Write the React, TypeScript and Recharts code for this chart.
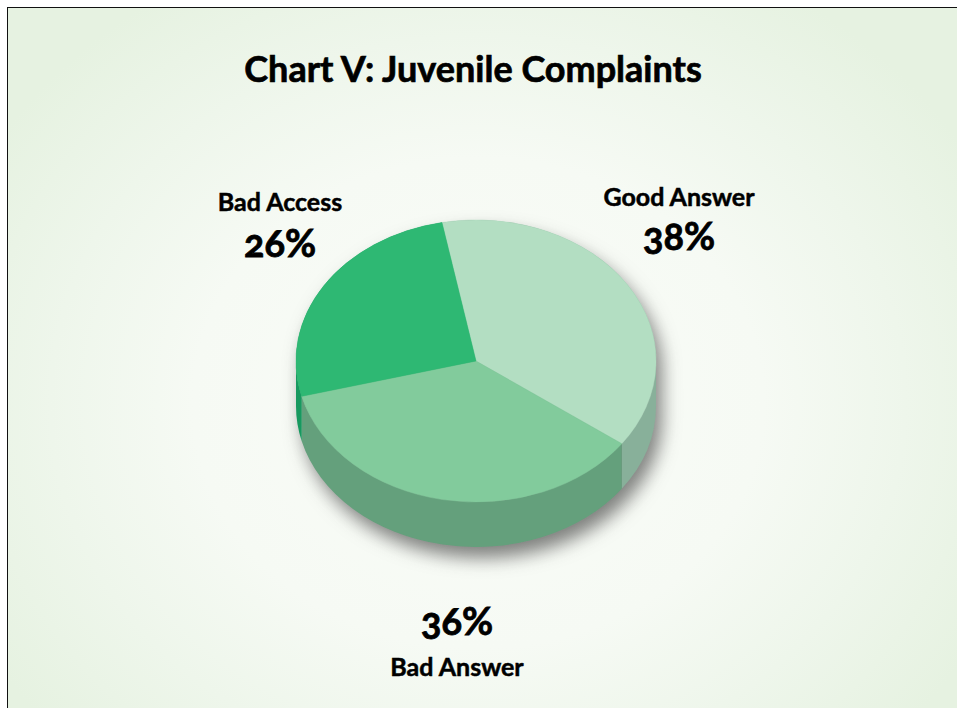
import { PieChart, Pie, Cell } from "recharts";

const categories = ["Good Answer", "Bad Answer", "Bad Access"];
const shares = [38, 36, 26];
const topColors = ["#b3dec2", "#82cb9c", "#2eb873"];
const wallColors = ["#88b09a", "#64a07c", "#17995f"];

const data = categories.map((name, i) => ({ name, value: shares[i] }));

const CX = 476;
const CY = 361;
const RX = 180;
const RY = 141;
const DEPTH = 45;
const START_ANGLE = 100.9;

const FONT = "Lato, 'Open Sans', sans-serif";

// where each name / percent pair sits, same order as categories
const labelSpots = [
  { x: 679, nameY: 206, pctY: 250 },
  { x: 457, nameY: 676, pctY: 635 },
  { x: 280, nameY: 211, pctY: 257 },
];

function point(cx: number, cy: number, r: number, deg: number) {
  const rad = (deg * Math.PI) / 180;
  return { x: cx + r * Math.cos(rad), y: cy - r * (RY / RX) * Math.sin(rad) };
}

function facePath(cx: number, cy: number, r: number, startAngle: number, endAngle: number) {
  const a = point(cx, cy, r, startAngle);
  const b = point(cx, cy, r, endAngle);
  const large = Math.abs(endAngle - startAngle) > 180 ? 1 : 0;
  return `M${cx},${cy} L${a.x},${a.y} A${r},${r * (RY / RX)} 0 ${large} 1 ${b.x},${b.y} Z`;
}

// top face of a slice, squashed into an ellipse
function TopFace(props: any) {
  const { cx, cy, outerRadius: r, startAngle, endAngle, fill } = props;
  return <path d={facePath(cx, cy, r, startAngle, endAngle)} fill={fill} stroke={fill} strokeWidth={0.5} />;
}

// side wall: only the part of the slice facing the viewer (angles -180..0)
// the face is drawn here too so the shadow follows the whole silhouette
function Wall(props: any) {
  const { cx, cy, outerRadius: r, startAngle, endAngle, fill } = props;
  const parts: any[] = [];
  [0, -360].forEach((shift) => {
    const from = Math.min(startAngle + shift, 0);
    const to = Math.max(endAngle + shift, -180);
    if (from <= to) return;
    const a = point(cx, cy, r, from);
    const b = point(cx, cy, r, to);
    const ry = r * (RY / RX);
    parts.push(
      <path
        key={shift}
        d={`M${a.x},${a.y} A${r},${ry} 0 0 1 ${b.x},${b.y} L${b.x},${b.y + DEPTH} A${r},${ry} 0 0 0 ${a.x},${a.y + DEPTH} Z`}
        fill={fill}
      />
    );
  });
  return (
    <g>
      <path d={facePath(cx, cy, r, startAngle, endAngle)} fill={fill} />
      {parts}
    </g>
  );
}

export default function App() {
  return (
    <div style={{ position: "fixed", left: 0, top: 0, width: 957, height: 708, overflow: "hidden", background: "#fff" }}>
      <div
        style={{
          position: "absolute",
          left: 7,
          top: 7,
          width: 960,
          height: 720,
          boxSizing: "border-box",
          borderLeft: "1px solid #111",
          borderTop: "1.5px solid #111",
          background:
            "radial-gradient(ellipse 570px 490px at 470px 395px, #fafcf8 0%, #f6faf4 50%, #eef6eb 75%, #e6f2e1 100%)",
        }}
      />
      <div style={{ position: "absolute", left: 0, top: 0 }}>
        <style>{`.pie-wall { filter: drop-shadow(6px 11px 9px rgba(30,30,30,0.55)); }`}</style>
        <PieChart width={957} height={708} margin={{ top: 0, right: 0, bottom: 0, left: 0 }}>
          <Pie
            className="pie-wall"
            data={data}
            dataKey="value"
            nameKey="name"
            cx={CX}
            cy={CY}
            innerRadius={0}
            outerRadius={RX}
            startAngle={START_ANGLE}
            endAngle={START_ANGLE - 360}
            stroke="none"
            shape={Wall}
            isAnimationActive={false}
          >
            {data.map((d, i) => (
              <Cell key={d.name} fill={wallColors[i]} />
            ))}
          </Pie>
          <Pie
            data={data}
            dataKey="value"
            nameKey="name"
            cx={CX}
            cy={CY}
            innerRadius={0}
            outerRadius={RX}
            startAngle={START_ANGLE}
            endAngle={START_ANGLE - 360}
            stroke="none"
            shape={TopFace}
            isAnimationActive={false}
          >
            {data.map((d, i) => (
              <Cell key={d.name} fill={topColors[i]} />
            ))}
          </Pie>
          <text
            x={473}
            y={82}
            textAnchor="middle"
            fontFamily={FONT}
            fontWeight={700}
            fontSize={36}
            fill="#000"
            stroke="#000"
            strokeWidth={0.7}
          >
            Chart V: Juvenile Complaints
          </text>
          {data.map((d, i) => (
            <g key={d.name} fontFamily={FONT} fontWeight={700} fill="#000" stroke="#000" textAnchor="middle">
              <text x={labelSpots[i].x} y={labelSpots[i].nameY} fontSize={25} strokeWidth={0.5}>
                {d.name}
              </text>
              <text
                x={labelSpots[i].x}
                y={labelSpots[i].pctY}
                fontSize={38}
                strokeWidth={0.8}
                style={{ fontFeatureSettings: '"onum"' }}
              >
                {d.value}%
              </text>
            </g>
          ))}
        </PieChart>
      </div>
    </div>
  );
}
